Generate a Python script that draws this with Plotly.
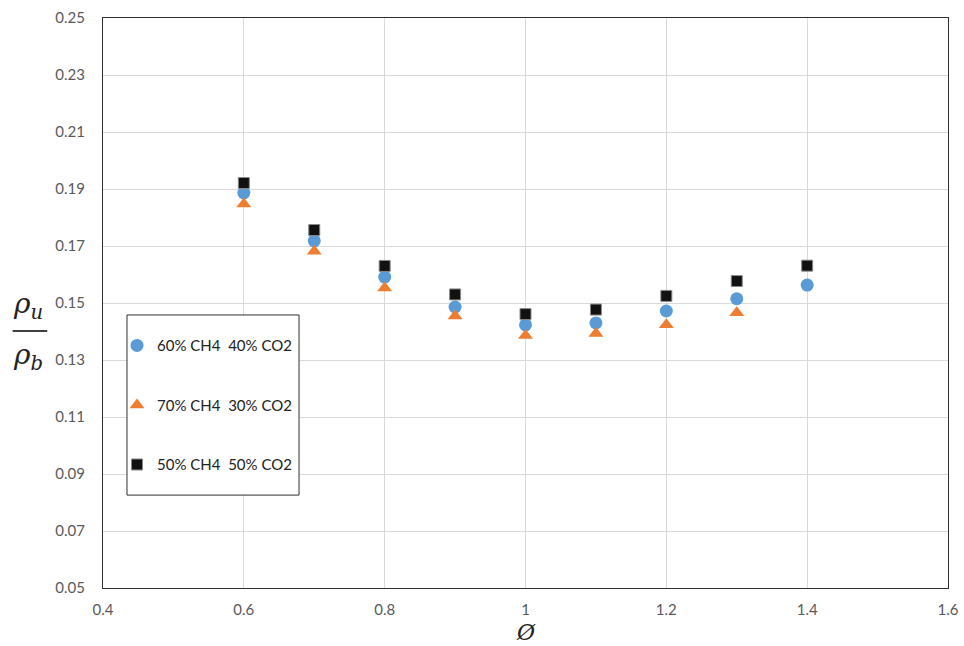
import plotly.graph_objects as go

# Equivalence ratio and density ratio (rho_u / rho_b) for three biogas blends
phi = [0.6, 0.7, 0.8, 0.9, 1.0, 1.1, 1.2, 1.3, 1.4]
ratio_60ch4 = [0.1886, 0.1718, 0.1591, 0.1486, 0.1423, 0.1430, 0.1472, 0.1515, 0.1563]
phi_70 = [0.6, 0.7, 0.8, 0.9, 1.0, 1.1, 1.2, 1.3]
ratio_70ch4 = [0.1847, 0.1682, 0.1553, 0.1454, 0.1386, 0.1393, 0.1424, 0.1466]
ratio_50ch4 = [0.1921, 0.1756, 0.1630, 0.1530, 0.1461, 0.1477, 0.1525, 0.1577, 0.1631]

names = ["60% CH4\u00a0\u00a040% CO2", "70% CH4\u00a0\u00a030% CO2", "50% CH4\u00a0\u00a050% CO2"]
x_ticks = [0.4, 0.6, 0.8, 1.0, 1.2, 1.4, 1.6]
x_tick_text = ["0.4", "0.6", "0.8", "1", "1.2", "1.4", "1.6"]
y_ticks = [0.05, 0.07, 0.09, 0.11, 0.13, 0.15, 0.17, 0.19, 0.21, 0.23, 0.25]

fig = go.Figure()
fig.add_trace(go.Scatter(
    x=phi, y=ratio_60ch4, mode="markers", name=names[0], legendgroup="a",
    marker=dict(symbol="circle", size=13, color="#5B9BD5", line=dict(width=0)),
))
fig.add_trace(go.Scatter(
    x=phi_70, y=ratio_70ch4, mode="markers", name=names[1], legendgroup="b",
    marker=dict(symbol="triangle-up", size=13, color="#ED7D31", line=dict(width=0)),
))
fig.add_trace(go.Scatter(
    x=phi, y=ratio_50ch4, mode="markers", name=names[2], legendgroup="c",
    marker=dict(symbol="square", size=11, color="#111111", line=dict(width=1, color="#8a8a8a")),
))

tick_font = dict(family="Lato, Carlito, Calibri, sans-serif", size=15, color="#595959")

fig.update_layout(
    width=964, height=646,
    margin=dict(l=103, r=16, t=18, b=58, autoexpand=False),
    paper_bgcolor="white", plot_bgcolor="white",
    showlegend=True,
    legend=dict(
        x=0.0166, y=0.454, xanchor="left", yanchor="top",
        bgcolor="rgba(0,0,0,0)", borderwidth=0,
        font=dict(family="Lato, Carlito, Calibri, sans-serif", size=15, color="#222222"),
        tracegroupgap=37, itemwidth=30,
    ),
    xaxis=dict(
        range=[0.4, 1.6], tickvals=x_ticks, ticktext=x_tick_text,
        showgrid=True, gridcolor="#d9d9d9", gridwidth=1,
        showline=True, linecolor="#303030", linewidth=1, mirror=True,
        zeroline=False, ticks="", tickfont=tick_font,
        ticklabelstandoff=8, automargin=False,
    ),
    yaxis=dict(
        range=[0.05, 0.25], tickvals=y_ticks, tickformat=".2f",
        showgrid=True, gridcolor="#d9d9d9", gridwidth=1,
        showline=True, linecolor="#303030", linewidth=1, mirror=True,
        zeroline=False, ticks="", tickfont=tick_font,
        ticklabelstandoff=14, automargin=False,
    ),
    shapes=[
        # legend frame
        dict(type="rect", xref="paper", yref="paper",
             x0=0.0284, x1=0.232, y0=0.163, y1=0.479,
             line=dict(color="#303030", width=1), fillcolor="white", layer="above"),
        # fraction bar of the y-axis label
        dict(type="line", xref="paper", yref="paper",
             x0=-0.107, x1=-0.066, y0=0.451, y1=0.451,
             line=dict(color="#404040", width=2)),
    ],
    annotations=[
        dict(text="<i>ρ<sub>u</sub></i>", xref="paper", yref="paper",
             x=-0.1085, y=0.495, xanchor="left", showarrow=False,
             font=dict(family="DejaVu Serif, serif", size=28, color="#222222")),
        dict(text="<i>ρ<sub>b</sub></i>", xref="paper", yref="paper",
             x=-0.1085, y=0.406, xanchor="left", showarrow=False,
             font=dict(family="DejaVu Serif, serif", size=28, color="#222222")),
        dict(text="<i>Ø</i>", xref="paper", yref="paper",
             x=0.5, y=-0.078, showarrow=False, yanchor="middle",
             font=dict(family="DejaVu Serif, serif", size=22, color="#222222")),
    ],
)

fig.write_html("out.html")
